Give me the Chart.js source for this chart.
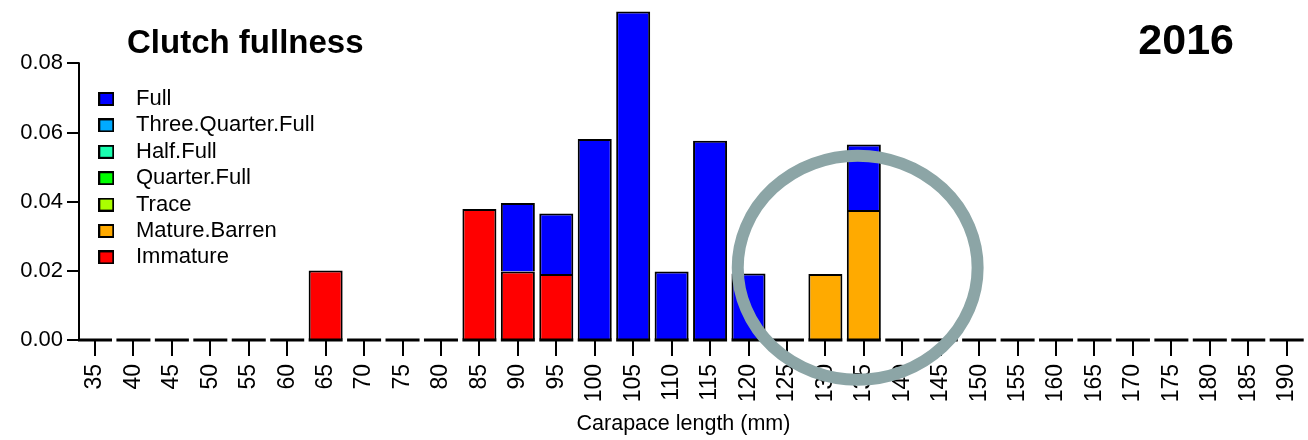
<!DOCTYPE html>
<html>
<head>
<meta charset="utf-8">
<script src="https://cdn.jsdelivr.net/npm/chart.js@4.4.1/dist/chart.umd.min.js"></script>
<style>
  html, body { margin: 0; padding: 0; background: #ffffff; }
  canvas { display: block; }
</style>
</head>
<body>
<canvas id="clutch" width="1308" height="440"></canvas>
<script>
// Carapace length classes (mm)
const lengthClasses = [35, 40, 45, 50, 55, 60, 65, 70, 75, 80, 85, 90, 95, 100, 105, 110,
                       115, 120, 125, 130, 135, 140, 145, 150, 155, 160, 165, 170, 175, 180, 185, 190];

// Proportion of sampled females in each class, by clutch fullness
const immature         = [0, 0, 0, 0, 0, 0, 0.0201, 0, 0, 0, 0.0379, 0.0198, 0.0191, 0, 0, 0,
                          0, 0, 0, 0, 0, 0, 0, 0, 0, 0, 0, 0, 0, 0, 0, 0];
const matureBarren     = [0, 0, 0, 0, 0, 0, 0, 0, 0, 0, 0, 0, 0, 0, 0, 0,
                          0, 0, 0, 0.0191, 0.0376, 0, 0, 0, 0, 0, 0, 0, 0, 0, 0, 0];
const trace            = [0, 0, 0, 0, 0, 0, 0, 0, 0, 0, 0, 0, 0, 0, 0, 0,
                          0, 0, 0, 0, 0, 0, 0, 0, 0, 0, 0, 0, 0, 0, 0, 0];
const quarterFull      = [0, 0, 0, 0, 0, 0, 0, 0, 0, 0, 0, 0, 0, 0, 0, 0,
                          0, 0, 0, 0, 0, 0, 0, 0, 0, 0, 0, 0, 0, 0, 0, 0];
const halfFull         = [0, 0, 0, 0, 0, 0, 0, 0, 0, 0, 0, 0, 0, 0, 0, 0,
                          0, 0, 0, 0, 0, 0, 0, 0, 0, 0, 0, 0, 0, 0, 0, 0];
const threeQuarterFull = [0, 0, 0, 0, 0, 0, 0, 0, 0, 0, 0, 0, 0, 0, 0, 0,
                          0, 0, 0, 0, 0, 0, 0, 0, 0, 0, 0, 0, 0, 0, 0, 0];
const full             = [0, 0, 0, 0, 0, 0, 0, 0, 0, 0, 0, 0.0198, 0.0175, 0.0581, 0.0950, 0.0198,
                          0.0576, 0.0192, 0, 0, 0.0189, 0, 0, 0, 0, 0, 0, 0, 0, 0, 0, 0];

// Y axis tick values
const yTicks = [0, 0.02, 0.04, 0.06, 0.08];

// Texts
const chartTitle = 'Clutch fullness';
const yearLabel = '2016';
const xTitle = 'Carapace length (mm)';

// Ring drawn around the 130–135 mm classes, in data units
const highlight = { x: 134.2, y: 0.0209, rx: 15.6, ry: 0.0324 };

// Stacking order: first entry sits at the bottom of each bar
const series = [
  { label: 'Immature',           values: immature,         color: '#FF0000' },
  { label: 'Mature.Barren',      values: matureBarren,     color: '#FFAA00' },
  { label: 'Trace',              values: trace,            color: '#AAFF00' },
  { label: 'Quarter.Full',       values: quarterFull,      color: '#00FF00' },
  { label: 'Half.Full',          values: halfFull,         color: '#1AFFB0' },
  { label: 'Three.Quarter.Full', values: threeQuarterFull, color: '#00AAFF' },
  { label: 'Full',               values: full,             color: '#0000FF' }
];

const FONT = '"Liberation Sans", Arial, Helvetica, sans-serif';
Chart.defaults.font.family = FONT;
Chart.defaults.color = '#000';

// Small outlined squares used as legend keys
function swatch(color) {
  const c = document.createElement('canvas');
  c.width = 16; c.height = 14;
  const g = c.getContext('2d');
  g.fillStyle = '#000';
  g.fillRect(0, 0, 16, 14);
  g.fillStyle = color;
  g.fillRect(2, 2, 12, 10);
  return c;
}

const datasets = series.map(s => ({
  label: s.label,
  data: lengthClasses.map((len, i) => ({ x: len, y: s.values[i] })),
  backgroundColor: s.color,
  borderColor: '#000',
  borderWidth: 2,
  barPercentage: 0.885,
  categoryPercentage: 1
}));

const swatches = series.map(s => swatch(s.color));

// Zero line under every length class, plus the vertical value axis
const axisLines = {
  id: 'axisLines',
  afterDatasetsDraw(chart) {
    const { ctx } = chart;
    const y = chart.scales.y;
    const y0 = y.getPixelForValue(0);
    ctx.save();
    ctx.fillStyle = '#000';
    chart.getDatasetMeta(0).data.forEach(el => {
      const p = el.getProps(['x', 'width'], true);
      ctx.fillRect(p.x - p.width / 2, y0 - 1.5, p.width, 3);
    });
    const yTop = y.getPixelForValue(yTicks[yTicks.length - 1]);
    ctx.fillRect(chart.chartArea.left - 1, yTop - 1, 2, y0 - yTop + 2);
    ctx.restore();
  }
};

// Legend placement, headings and the highlight ring
const overlay = {
  id: 'overlay',
  afterLayout(chart) {
    const lg = chart.legend;
    if (!lg) return;
    lg.left = 83.2;
    lg.top = 83.6;
    lg.right = lg.left + lg.width;
    lg.bottom = chart.chartArea.bottom;
  },
  afterDraw(chart) {
    const { ctx } = chart;
    const xs = chart.scales.x, ys = chart.scales.y;
    ctx.save();
    ctx.fillStyle = '#000';
    ctx.textBaseline = 'alphabetic';
    ctx.font = 'bold 33px ' + FONT;
    ctx.textAlign = 'left';
    ctx.fillText(chartTitle, 127, 53);
    ctx.font = 'bold 43px ' + FONT;
    ctx.textAlign = 'right';
    ctx.fillText(yearLabel, 1234, 54);

    const cx = xs.getPixelForValue(highlight.x);
    const cy = ys.getPixelForValue(highlight.y);
    const rx = xs.getPixelForValue(highlight.x + highlight.rx) - cx;
    const ry = cy - ys.getPixelForValue(highlight.y + highlight.ry);
    ctx.beginPath();
    ctx.ellipse(cx, cy, rx, ry, 0, 0, Math.PI * 2);
    ctx.lineWidth = 12;
    ctx.strokeStyle = '#8CA5A6';
    ctx.stroke();
    ctx.restore();
  }
};

new Chart(document.getElementById('clutch'), {
  type: 'bar',
  data: { datasets },
  plugins: [axisLines, overlay],
  options: {
    responsive: false,
    animation: false,
    layout: { padding: { top: 8, right: 20, left: 0, bottom: 0 } },
    plugins: {
      tooltip: { enabled: false },
      title: { display: false },
      legend: {
        position: 'chartArea',
        align: 'start',
        reverse: true,
        labels: {
          usePointStyle: true,
          pointStyleWidth: 37.4,
          padding: 4.4,
          color: '#000',
          font: { size: 22 },
          generateLabels(chart) {
            const items = Chart.defaults.plugins.legend.labels.generateLabels(chart);
            items.forEach(it => { it.pointStyle = swatches[it.datasetIndex]; });
            return items;
          }
        }
      }
    },
    scales: {
      x: {
        type: 'linear',
        stacked: true,
        offset: false,
        min: 32.92,
        max: 190.17,
        afterBuildTicks(scale) { scale.ticks = lengthClasses.map(v => ({ value: v })); },
        afterFit(scale) {
          scale.height = 100;
          scale.paddingLeft = 0; scale.paddingRight = 0;
          scale.paddingTop = 0; scale.paddingBottom = 0;
        },
        grid: { offset: false, drawOnChartArea: false, drawTicks: true, tickLength: 16, color: '#000', lineWidth: 2 },
        border: { display: false },
        ticks: {
          autoSkip: false, minRotation: 90, maxRotation: 90, padding: 8,
          color: '#000', font: { size: 23 },
          callback: v => String(v)
        },
        title: {
          display: true, text: xTitle, color: '#000',
          font: { size: 21.5 }, padding: { top: 0, bottom: 3 }
        }
      },
      y: {
        stacked: true,
        min: 0,
        max: 0.096,
        afterBuildTicks(scale) { scale.ticks = yTicks.map(v => ({ value: v })); },
        afterFit(scale) {
          scale.width = 79;
          scale.paddingLeft = 0; scale.paddingRight = 0;
          scale.paddingTop = 0; scale.paddingBottom = 0;
        },
        grid: { drawOnChartArea: false, drawTicks: true, tickLength: 12, color: '#000', lineWidth: 2 },
        border: { display: false },
        ticks: { padding: 4, color: '#000', font: { size: 22 }, callback: v => v.toFixed(2) }
      }
    }
  }
});
</script>
</body>
</html>
